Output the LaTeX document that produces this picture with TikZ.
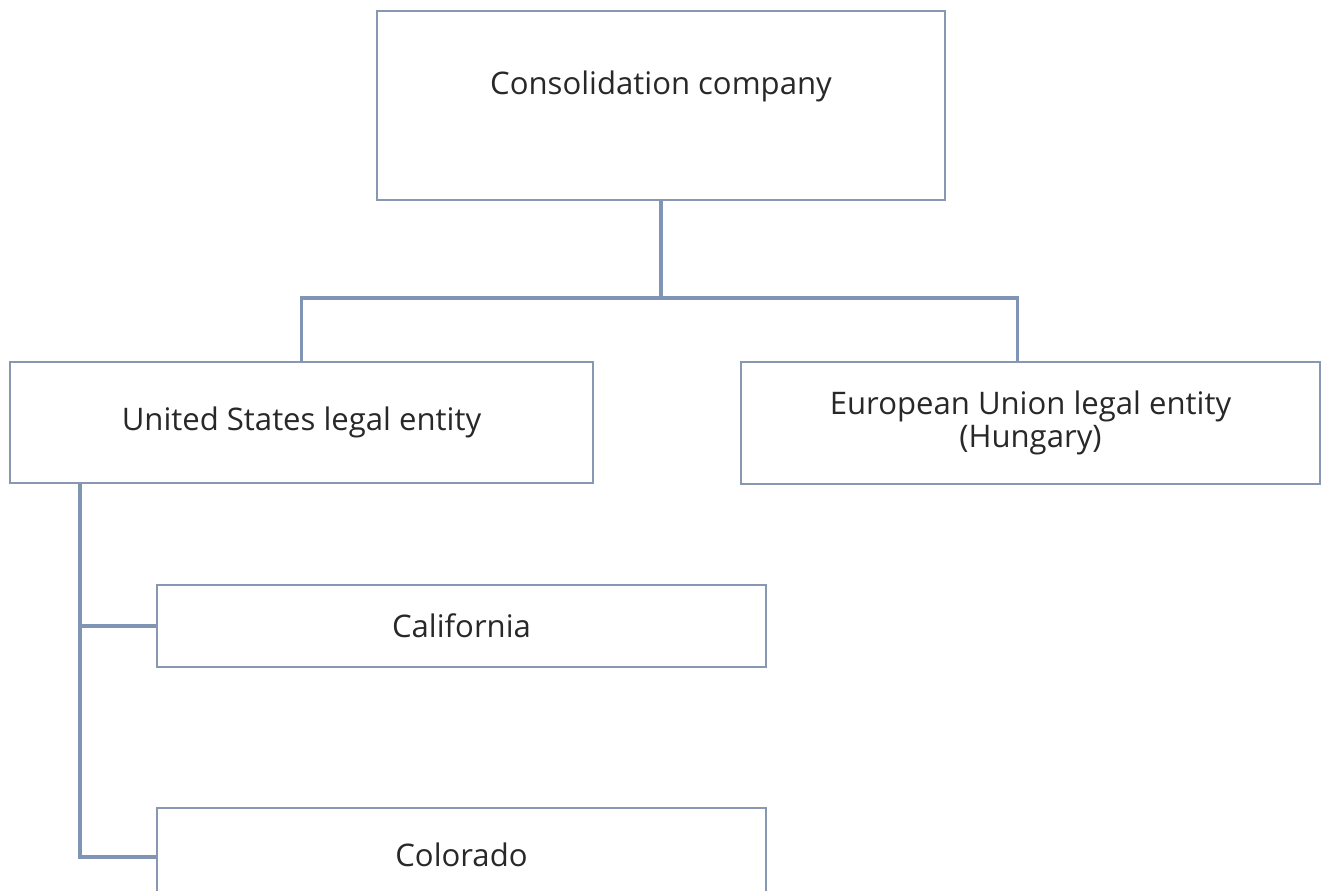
\documentclass[tikz,border=0pt]{standalone}
\usepackage{fontspec}
\setmainfont{Open Sans}
\usepackage{tikz}
\usetikzlibrary{positioning}
\definecolor{boxline}{RGB}{136,152,178}
\definecolor{linkline}{RGB}{128,148,182}
\definecolor{txt}{RGB}{40,40,40}

\begin{document}
\begin{tikzpicture}[x=0.02cm,y=-0.02cm]
        \tikzstyle{every node}+=[inner sep=0pt,text=txt,font=\fontsize{17.7}{19}\selectfont]
        \tikzstyle{entity}=[draw=boxline,line width=1.6pt,fill=white,align=center]
        \tikzstyle{link}=[draw=linkline,line width=2.1pt]
        \useasboundingbox (0,0) rectangle (1322,890);
        \node [entity,minimum width=11.36cm,minimum height=3.78cm] (cons) at (661,105.5) {};
        \node (conslabel) at (661,86) {Consolidation company};
        \node [entity,minimum width=11.66cm,minimum height=2.42cm] (us) at (301.5,422.5) {United States legal entity\vphantom{()}};
        \node [entity,minimum width=11.58cm,minimum height=2.44cm] (eu) at (1030.5,423) {European Union legal entity\\(Hungary)};
        \node [entity,minimum width=12.18cm,minimum height=1.64cm] (cal) at (461.5,626) {California};
        \node [entity,minimum width=12.18cm,minimum height=1.86cm] (col) at (461.5,854.5) {Colorado};
        \coordinate (bar) at (661,298);
        \coordinate (spine) at (80,0);
        \draw [link] (cons.south) -- (bar);
        \draw [link] (us.north) |- (bar) -| ([xshift=-13*0.02cm]eu.north);
        \draw [link] (us.south -| spine) |- (cal.west);
        \draw [link] (cal.west -| spine) |- ([yshift=-0.05cm]col.west);
\end{tikzpicture}
\end{document}
